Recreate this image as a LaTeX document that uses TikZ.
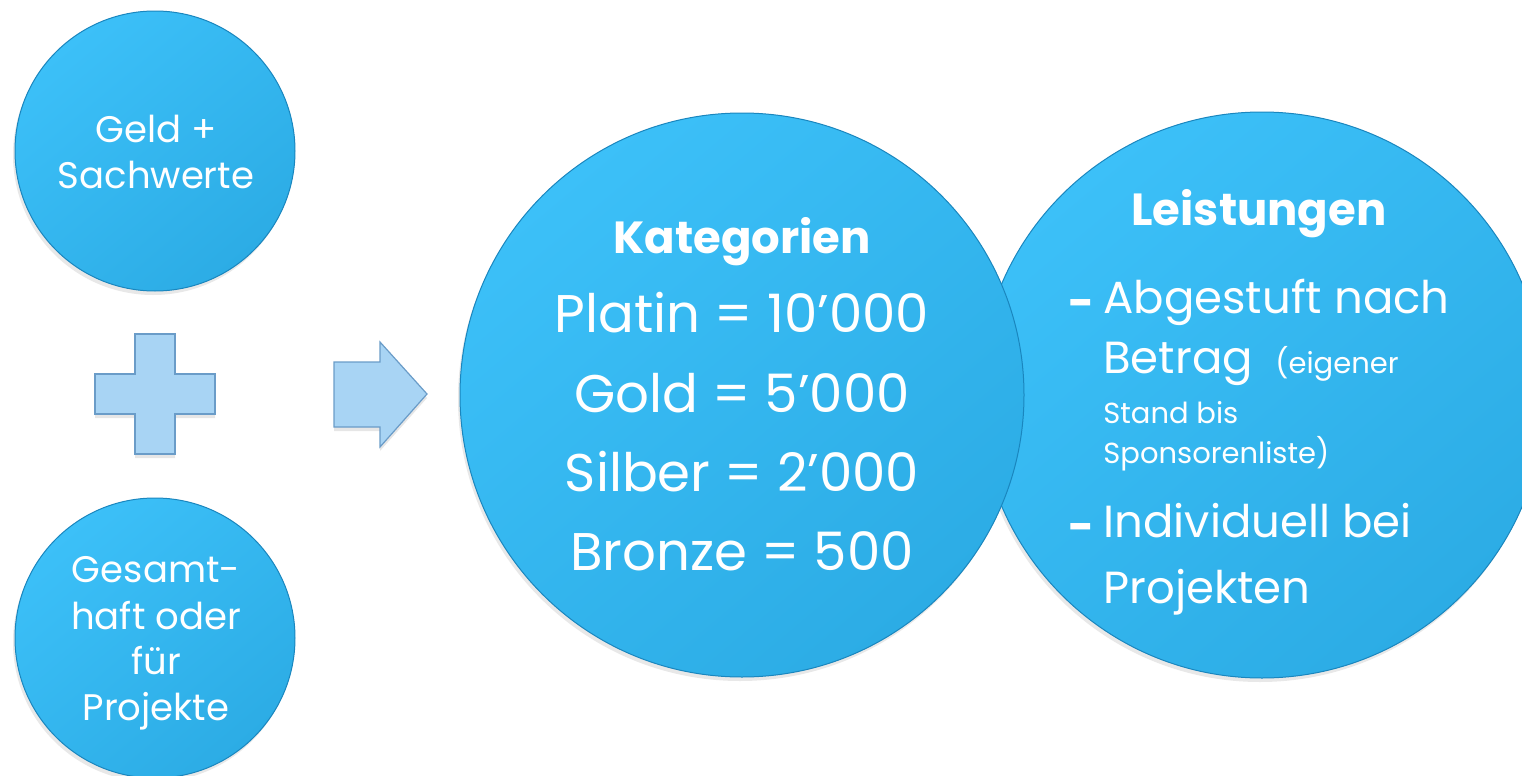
\documentclass[tikz,border=0pt]{standalone}
\usepackage{fontspec}
\setmainfont{Poppins}
\usetikzlibrary{shadows,positioning}

\definecolor{bubbletop}{HTML}{3CC0F8}
\definecolor{bubblebot}{HTML}{2CACE5}
\definecolor{bubbleedge}{HTML}{1A86BE}
\definecolor{signfill}{HTML}{A8D4F4}
\definecolor{signedge}{HTML}{6A9CC8}

\tikzset{
 bubble/.style
  = {circle, draw=bubbleedge, line width=0.5pt, inner sep=0pt,
     top color=bubbletop, bottom color=bubblebot, shading angle=40,
     drop shadow={opacity=0.18, shadow xshift=-1pt, shadow yshift=-2pt}},
 sign/.style
  = {draw=signedge, line width=0.6pt, fill=signfill, line join=miter,
     drop shadow={opacity=0.2, shadow xshift=0pt, shadow yshift=-2pt}},
 smalltxt/.style
  = {text=white, inner sep=0pt, font=\fontsize{18.5}{24}\selectfont},
 headtxt/.style
  = {text=white, inner sep=0pt, font=\bfseries\fontsize{22.5}{28}\selectfont},
 kattxt/.style
  = {text=white, inner sep=0pt, font=\fontsize{26.5}{30}\selectfont},
 listtxt/.style
  = {text=white, inner sep=0pt, font=\fontsize{22.5}{28}\selectfont},
 notetxt/.style
  = {text=white, inner sep=0pt, font=\fontsize{14.5}{18}\selectfont},
}

\begin{document}
\begin{tikzpicture}[x=0.5pt, y=-0.5pt]
\useasboundingbox (0,0) rectangle (1522,776);

% left column
\node[bubble, minimum size=140pt] (geld) at (155,151) {};
\node[bubble, minimum size=140pt] (gesamt) at (155,638) {};

% plus sign
\draw[sign] (135,334) -- (175,334) -- (175,374) -- (215,374) -- (215,414)
  -- (175,414) -- (175,454) -- (135,454) -- (135,414) -- (95,414)
  -- (95,374) -- (135,374) -- cycle;

% arrow
\draw[sign] (334,362) -- (380,362) -- (380,342) -- (427,394) -- (380,447)
  -- (380,427) -- (334,427) -- cycle;

% big circles (Kategorien lies on top)
\node[bubble, minimum size=283pt] (leist) at (1262,395) {};
\node[bubble, minimum size=282pt] (kat) at (742,395) {};

% texts, left column
\node[smalltxt, anchor=base] (geld1) at (156,142) {Geld +};
\node[smalltxt, anchor=base] (geld2) at (156,188) {Sachwerte};
\node[smalltxt, anchor=base] (ges1) at (156,582) {Gesamt-};
\node[smalltxt, anchor=base] (ges2) at (156,629) {haft oder};
\node[smalltxt, anchor=base] (ges3) at (156,674) {für};
\node[smalltxt, anchor=base] (ges4) at (156,720) {Projekte};

% Kategorien
\node[headtxt, anchor=base] (kathead) at (742,253) {Kategorien};
\foreach \txt/\yy [count=\i] in {Platin = 10’000/332, Gold = 5’000/412,
    Silber = 2’000/491, Bronze = 500/570}
  \node[kattxt, anchor=base] (kat\i) at (742,\yy) {\txt};

% Leistungen
\node[headtxt, anchor=base] (leisthead) at (1259,225) {Leistungen};
\node[listtxt, anchor=base west] (dash1) at (1068,318) {\bfseries -};
\node[listtxt, anchor=base west] (abg) at (1103,313) {Abgestuft nach};
\node[listtxt, anchor=base west] (betrag) at (1103,373) {Betrag};
\node[notetxt, anchor=base west] (note1) at (1275,373) {(eigener};
\node[notetxt, anchor=base west] (note2) at (1103,423) {Stand bis};
\node[notetxt, anchor=base west] (note3) at (1103,463) {Sponsorenliste)};
\node[listtxt, anchor=base west] (dash2) at (1068,542) {\bfseries -};
\node[listtxt, anchor=base west] (indiv) at (1103,537) {Individuell bei};
\node[listtxt, anchor=base west] (proj) at (1103,603) {Projekten};

\end{tikzpicture}
\end{document}
